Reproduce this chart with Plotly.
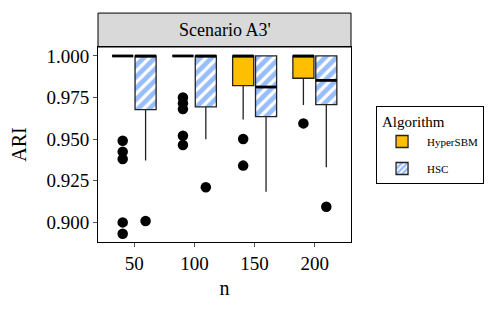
import plotly.graph_objects as go

# ---- data ----
n_values = [50, 100, 150, 200]
algorithms = ["HyperSBM", "HSC"]

hsbm_q1 = [1.000, 1.000, 0.9821, 0.9866]
hsbm_med = [1.000, 1.000, 1.000, 1.000]
hsbm_q3 = [1.000, 1.000, 1.000, 1.000]
hsbm_lo = [1.000, 1.000, 0.9618, 0.9705]
hsbm_hi = [1.000, 1.000, 1.000, 1.000]
hsbm_out = [[0.949, 0.9424, 0.938, 0.8998, 0.893],
            [0.975, 0.9715, 0.968, 0.952, 0.9464],
            [0.950, 0.934],
            [0.9594]]

hsc_q1 = [0.9677, 0.9693, 0.9635, 0.9707]
hsc_med = [1.000, 1.000, 0.9813, 0.9853]
hsc_q3 = [1.000, 1.000, 1.000, 1.000]
hsc_lo = [0.937, 0.9498, 0.9183, 0.933]
hsc_hi = [1.000, 1.000, 1.000, 1.000]
hsc_out = [[0.9006], [0.921], [], [0.9092]]

y_ticks = [0.900, 0.925, 0.950, 0.975, 1.000]
y_tick_text = ["0.900", "0.925", "0.950", "0.975", "1.000"]

# ---- styling ----
FONT = "Liberation Serif, DejaVu Serif, serif"
YELLOW = "#FDBF00"
BLUE = "#2F7BF5"
OFFSET = 0.19
BW = 0.35

pos = list(range(1, len(n_values) + 1))
x_h = [p - OFFSET for p in pos]
x_c = [p + OFFSET for p in pos]

fig = go.Figure()

# HSC hatched box body (bar with pattern)
fig.add_trace(go.Bar(
    x=x_c, y=[q3 - q1 for q1, q3 in zip(hsc_q1, hsc_q3)], base=hsc_q1,
    width=BW, name="HSC", showlegend=False,
    marker=dict(color="white", line=dict(width=0),
                pattern=dict(shape="/", fgcolor=BLUE, bgcolor="white",
                             size=8, solidity=0.6)),
    hoverinfo="skip"))

# HyperSBM boxes
fig.add_trace(go.Box(
    x=x_h, q1=hsbm_q1, median=hsbm_med, q3=hsbm_q3,
    lowerfence=hsbm_lo, upperfence=hsbm_hi, width=BW,
    name="HyperSBM", legendgroup="a", fillcolor=YELLOW, whiskerwidth=0,
    line=dict(color="#222222", width=1.3), boxpoints=False))

# HSC boxes (outline)
fig.add_trace(go.Box(
    x=x_c, q1=hsc_q1, median=hsc_med, q3=hsc_q3,
    lowerfence=hsc_lo, upperfence=hsc_hi, width=BW,
    name="HSC", fillcolor="rgba(0,0,0,0)", whiskerwidth=0,
    line=dict(color="#222222", width=1.3), boxpoints=False,
    showlegend=False))

# legend stand-in for HSC with hatch
fig.add_trace(go.Bar(
    x=[None], y=[None], name="HSC", legendgroup="b",
    marker=dict(color="white", line=dict(color="#222222", width=1.3),
                pattern=dict(shape="/", fgcolor=BLUE, bgcolor="white",
                             size=5, solidity=0.6))))

# thick median lines
for xs, meds in ((x_h, hsbm_med), (x_c, hsc_med)):
    mx, my = [], []
    for x, m in zip(xs, meds):
        mx += [x - BW / 2, x + BW / 2, None]
        my += [m, m, None]
    fig.add_trace(go.Scatter(x=mx, y=my, mode="lines", showlegend=False,
                             line=dict(color="black", width=2.8),
                             hoverinfo="skip"))

# outliers
ox, oy = [], []
for xs, outs in ((x_h, hsbm_out), (x_c, hsc_out)):
    for x, vals in zip(xs, outs):
        ox += [x] * len(vals)
        oy += vals
fig.add_trace(go.Scatter(x=ox, y=oy, mode="markers", showlegend=False,
                         marker=dict(color="black", size=10.5)))

fig.update_layout(
    width=498, height=311,
    margin=dict(l=98, r=147, t=47, b=69, autoexpand=False),
    plot_bgcolor="white", paper_bgcolor="white",
    font=dict(family=FONT, color="black"),
    barmode="overlay",
    xaxis=dict(range=[0.4, 4.6], tickvals=pos, ticktext=[str(v) for v in n_values],
               tickfont=dict(size=19, family=FONT), ticks="outside", ticklen=4,
               tickcolor="#555555", showgrid=False, zeroline=False,
               showline=True, linecolor="black", linewidth=1, mirror=True,
               title=dict(text="n", font=dict(size=20, family=FONT), standoff=8)),
    yaxis=dict(range=[0.888, 1.0054], tickvals=y_ticks, ticktext=y_tick_text,
               tickfont=dict(size=19, family=FONT), ticks="outside", ticklen=4,
               tickcolor="#555555", showgrid=False, zeroline=False,
               showline=True, linecolor="black", linewidth=1, mirror=True,
               title=dict(text="ARI", font=dict(size=20, family=FONT), standoff=14)),
    legend=dict(x=1.099, y=0.695, xanchor="left", yanchor="top",
                bordercolor="black", borderwidth=1, bgcolor="white",
                title=dict(text=" Algorithm", font=dict(size=15, family=FONT)),
                font=dict(size=11, family=FONT), itemwidth=40, tracegroupgap=8),
    shapes=[dict(type="rect", xref="paper", yref="paper", x0=0, x1=1,
                 y0=1.0, y1=1.174, fillcolor="#D9D9D9",
                 line=dict(color="black", width=1), layer="below")],
    annotations=[dict(text="Scenario A3'", xref="paper", yref="paper",
                      x=0.5, y=1.087, xanchor="center", yanchor="middle",
                      showarrow=False, font=dict(size=18, family=FONT))],
)

fig.write_html("out.html", config={"displayModeBar": False},
               post_script="document.body.style.margin='0px';")
